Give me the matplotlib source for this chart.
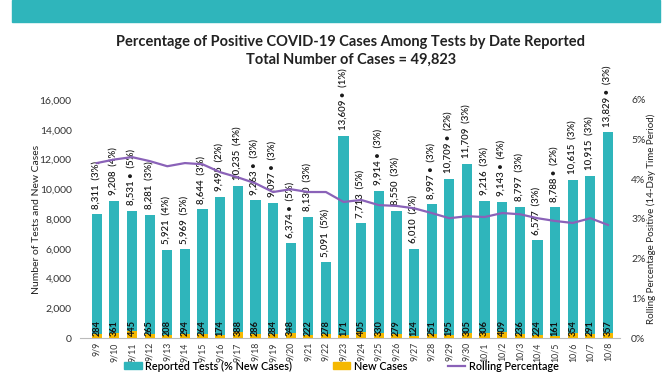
import matplotlib
matplotlib.use("Agg")
import matplotlib.pyplot as plt
from matplotlib.patches import Rectangle
from matplotlib.lines import Line2D
from matplotlib.ticker import FuncFormatter

plt.rcParams['font.family'] = ['Lato', 'DejaVu Sans']

dates = ["9/9", "9/10", "9/11", "9/12", "9/13", "9/14", "9/15", "9/16", "9/17", "9/18",
         "9/19", "9/20", "9/21", "9/22", "9/23", "9/24", "9/25", "9/26", "9/27", "9/28",
         "9/29", "9/30", "10/1", "10/2", "10/3", "10/4", "10/5", "10/6", "10/7", "10/8"]
tests = [8311, 9208, 8531, 8281, 5921, 5969, 8644, 9495, 10235, 9263,
         9097, 6374, 8130, 5091, 13609, 7713, 9914, 8550, 6010, 8997,
         10709, 11709, 9216, 9143, 8797, 6577, 8788, 10615, 10915, 13829]
pct_new = [3, 4, 5, 3, 4, 5, 3, 2, 4, 3,
           3, 5, 3, 5, 1, 5, 3, 3, 2, 3,
           2, 3, 3, 4, 3, 3, 2, 3, 3, 3]
starred = [False, False, True, False, False, False, False, False, False, True,
           True, True, False, False, True, False, True, False, False, True,
           True, False, False, True, False, False, True, False, False, True]
new_cases = [284, 361, 445, 265, 208, 294, 264, 174, 388, 286,
             284, 348, 222, 278, 171, 405, 330, 279, 124, 251,
             195, 305, 306, 409, 236, 224, 161, 354, 291, 357]
rolling = [4.41, 4.50, 4.56, 4.46, 4.33, 4.41, 4.38, 4.18, 4.05, 3.90,
           3.68, 3.75, 3.68, 3.68, 3.43, 3.48, 3.35, 3.33, 3.27, 3.15,
           3.02, 3.07, 3.05, 3.15, 3.12, 3.02, 2.95, 2.90, 3.02, 2.85]

TEAL = "#2fb5bb"
YELLOW = "#f5b800"
PURPLE = "#8a62b8"

fig = plt.figure(figsize=(6.72, 3.72), dpi=100)

# top banner
fig.patches.append(Rectangle((12/672, 1 - 22/372), 648/672, 22/372,
                             transform=fig.transFigure, color=TEAL, zorder=0))

fig.text(0.522, 1 - 42/372, "Percentage of Positive COVID-19 Cases Among Tests by Date Reported",
         ha="center", va="center", fontsize=10.5, fontweight="bold", color="#222222")
fig.text(0.522, 1 - 60/372, "Total Number of Cases = 49,823",
         ha="center", va="center", fontsize=10.5, fontweight="bold", color="#222222")

ax = fig.add_axes([80/672, 1 - 338/372, 540/672, 238/372])
x = list(range(len(dates)))
ax.bar(x, tests, width=0.58, color=TEAL, zorder=2)
ax.bar(x, new_cases, width=0.58, color=YELLOW, zorder=3)

ax.set_xlim(-0.95, 29.68)
ax.set_ylim(0, 16000)
ax.set_yticks(range(0, 16001, 2000))
ax.yaxis.set_major_formatter(FuncFormatter(lambda v, p: f"{int(v):,}"))
ax.set_xticks(x)
ax.set_xticklabels(dates, rotation=90, fontsize=6.3, color="#333333")
ax.tick_params(axis="y", length=0, labelsize=7.5, labelcolor="#333333", pad=6)
ax.tick_params(axis="x", length=0, pad=3)
for s in ["top", "right", "left"]:
    ax.spines[s].set_visible(False)
ax.spines["bottom"].set_color("#bbbbbb")
ax.set_ylabel("Number of Tests and New Cases", fontsize=7.5, color="#222222", labelpad=-1)

for i in x:
    star = " \u2022" if starred[i] else ""
    lbl = f"{tests[i]:,}{star}  ({pct_new[i]}%)"
    ax.text(i, tests[i] + 380, lbl, rotation=90, ha="center", va="bottom",
            fontsize=6.9, color="#1a1a1a", fontweight="semibold", zorder=5)
    ax.text(i, 110, f"{new_cases[i]}", rotation=90, ha="center", va="bottom",
            fontsize=6.6, color="#111111", fontweight="bold", zorder=5)

ax2 = ax.twinx()
ax2.plot(x, rolling, color=PURPLE, lw=1.6, zorder=4)
ax2.set_ylim(0, 6)
ax2.set_yticks(range(0, 7))
ax2.yaxis.set_major_formatter(FuncFormatter(lambda v, p: f"{int(v)}%"))
ax2.tick_params(axis="y", length=0, labelsize=7.5, labelcolor="#333333", pad=8)
for s in ["top", "right", "left", "bottom"]:
    ax2.spines[s].set_visible(False)
ax2.set_ylabel("Rolling Percentage Positive (14-Day Time Period)", fontsize=7, color="#222222",
               labelpad=1)

handles = [Rectangle((0, 0), 1, 1, color=TEAL),
           Rectangle((0, 0), 1, 1, color=YELLOW),
           Line2D([0], [0], color=PURPLE, lw=1.6)]
labels = ["Reported Tests (% New Cases)", "New Cases", "Rolling Percentage"]
fig.legend(handles, labels, loc="center", bbox_to_anchor=(0.508, 1 - 366/372), ncol=3,
           frameon=False, prop={"size": 7.8, "weight": "semibold"},
           handlelength=1.6, handleheight=0.6,
           columnspacing=3.8, handletextpad=0.3)

fig.savefig("out.png", dpi=100)
